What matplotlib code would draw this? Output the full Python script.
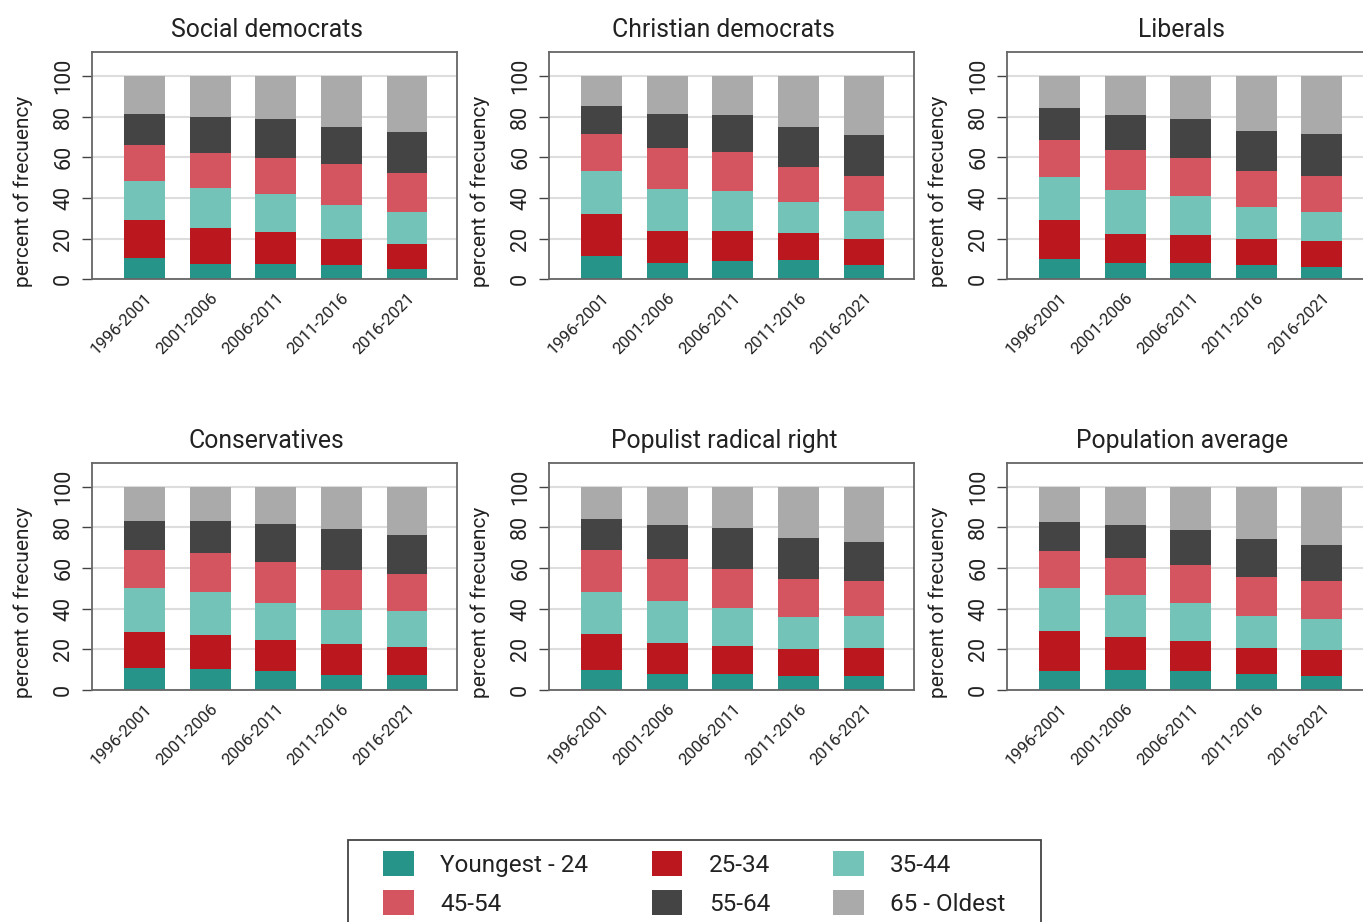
import numpy as np
import matplotlib
matplotlib.use("Agg")
import matplotlib.pyplot as plt
from matplotlib.patches import Patch, Rectangle

# === 1) Data: share of each age group per period (rows = periods) ===
periods = ["1996-2001", "2001-2006", "2006-2011", "2011-2016", "2016-2021"]
age_groups = ["Youngest - 24", "25-34", "35-44", "45-54", "55-64", "65 - Oldest"]

social_democrats = [
    [10.5, 18.6, 19.1, 17.6, 15.7, 18.5],
    [7.5, 17.7, 19.6, 17.1, 17.7, 20.4],
    [7.5, 15.7, 18.6, 17.7, 19.1, 21.4],
    [7.0, 12.8, 16.6, 20.1, 18.2, 25.3],
    [5.1, 12.2, 15.7, 19.1, 20.1, 27.8],
]
christian_democrats = [
    [11.4, 20.6, 21.1, 18.1, 13.8, 15.0],
    [8.0, 15.7, 20.6, 20.1, 17.1, 18.5],
    [9.0, 14.7, 19.6, 19.1, 18.2, 19.4],
    [9.5, 13.2, 15.2, 17.2, 19.6, 25.3],
    [7.0, 12.8, 13.7, 17.2, 20.1, 29.2],
]
liberals = [
    [10.0, 19.1, 21.1, 18.1, 15.7, 16.0],
    [8.0, 14.2, 21.6, 19.6, 17.6, 19.0],
    [8.0, 13.7, 19.1, 18.7, 19.1, 21.4],
    [7.0, 12.8, 15.7, 17.6, 19.6, 27.3],
    [6.0, 12.8, 14.2, 17.7, 20.5, 28.8],
]
conservatives = [
    [10.7, 17.7, 21.6, 18.7, 14.3, 17.0],
    [10.2, 16.7, 21.1, 19.2, 15.8, 17.0],
    [9.2, 15.2, 18.2, 20.2, 18.7, 18.5],
    [7.2, 15.3, 16.7, 19.7, 20.1, 21.0],
    [7.2, 13.8, 17.7, 18.2, 19.2, 23.9],
]
populist_radical_right = [
    [9.7, 17.7, 20.6, 20.7, 15.2, 16.1],
    [7.7, 15.3, 20.6, 20.7, 16.7, 19.0],
    [7.7, 13.8, 18.7, 19.1, 20.2, 20.5],
    [6.7, 13.3, 15.7, 18.7, 20.2, 25.4],
    [6.7, 13.8, 15.7, 17.2, 19.2, 27.4],
]
population_average = [
    [9.2, 19.7, 21.1, 18.2, 14.3, 17.5],
    [9.7, 16.2, 20.7, 18.2, 16.2, 19.0],
    [9.2, 14.7, 18.7, 18.7, 17.2, 21.5],
    [7.7, 13.1, 15.8, 19.1, 18.4, 25.9],
    [6.7, 13.1, 15.3, 18.3, 18.1, 28.5],
]

panel_titles = ["Social democrats", "Christian democrats", "Liberals",
                "Conservatives", "Populist radical right", "Population average"]
panel_data = [social_democrats, christian_democrats, liberals,
              conservatives, populist_radical_right, population_average]

colors = ["#27948A", "#BA181E", "#74C3B9", "#D45560", "#444444", "#AAAAAA"]

plt.rcParams["font.family"] = ["Roboto", "DejaVu Sans"]
text_color = "#222222"

# === 2) Figure and panel positions ===
fig = plt.figure(figsize=(13.63, 9.22), dpi=100)

lefts = [0.0677, 0.4030, 0.7390]
bottoms = [0.6971, 0.2516]
width, height = 0.2678, 0.2462

x = np.arange(len(periods))

for k, (title, data) in enumerate(zip(panel_titles, panel_data)):
    ax = fig.add_axes([lefts[k % 3], bottoms[k // 3], width, height])
    values = np.array(data)
    bottom = np.zeros(len(periods))
    for j in range(len(age_groups)):
        ax.bar(x, values[:, j], bottom=bottom, width=0.62,
               color=colors[j], linewidth=0, zorder=2)
        bottom += values[:, j]

    ax.set_xlim(-0.8, 4.77)
    ax.set_ylim(0, 111.6)
    ax.set_yticks([0, 20, 40, 60, 80, 100])
    ax.set_yticklabels(["0", "20", "40", "60", "80", "100"],
                       rotation=90, va="center", fontsize=15.5, color=text_color)
    ax.grid(axis="y", color="#DDDDDD", linewidth=1.5, zorder=0)
    ax.set_axisbelow(True)

    ax.set_xticks(x)
    ax.set_xticklabels(periods, rotation=45, ha="right",
                       rotation_mode="anchor", fontsize=12, color=text_color)
    ax.tick_params(axis="x", length=0, pad=8)
    ax.tick_params(axis="y", length=7, width=1, color="#444444", pad=6)

    for sp in ax.spines.values():
        sp.set_color("#666666")
        sp.set_linewidth(1.3)

    ax.set_ylabel("percent of frecuency", fontsize=15, color=text_color)
    ax.yaxis.set_label_coords(-0.162, 0.386)
    ax.set_title(title, fontsize=17.8, color=text_color, x=0.478, pad=11)

# === 3) Legend (frame drawn by hand, it runs off the bottom edge) ===
order = [0, 3, 1, 4, 2, 5]
handles = [Patch(facecolor=colors[i], edgecolor="none") for i in order]
labels = [age_groups[i] for i in order]
leg = fig.legend(handles, labels, ncol=3, loc="upper center",
                 bbox_to_anchor=(0.5095, 0.0925), fontsize=17.5,
                 frameon=False,
                 handlelength=1.25, handleheight=1.2, handletextpad=1.1,
                 columnspacing=2.6, labelspacing=0.55, borderpad=0.6,
                 borderaxespad=0)
for t in leg.get_texts():
    t.set_color(text_color)

fig.patches.append(Rectangle((348 / 1363, -0.05), (1041 - 348) / 1363,
                             0.05 + (922 - 840) / 922,
                             transform=fig.transFigure, fill=False,
                             edgecolor="#444444", linewidth=1.3))

fig.savefig("out.png", dpi=100)
